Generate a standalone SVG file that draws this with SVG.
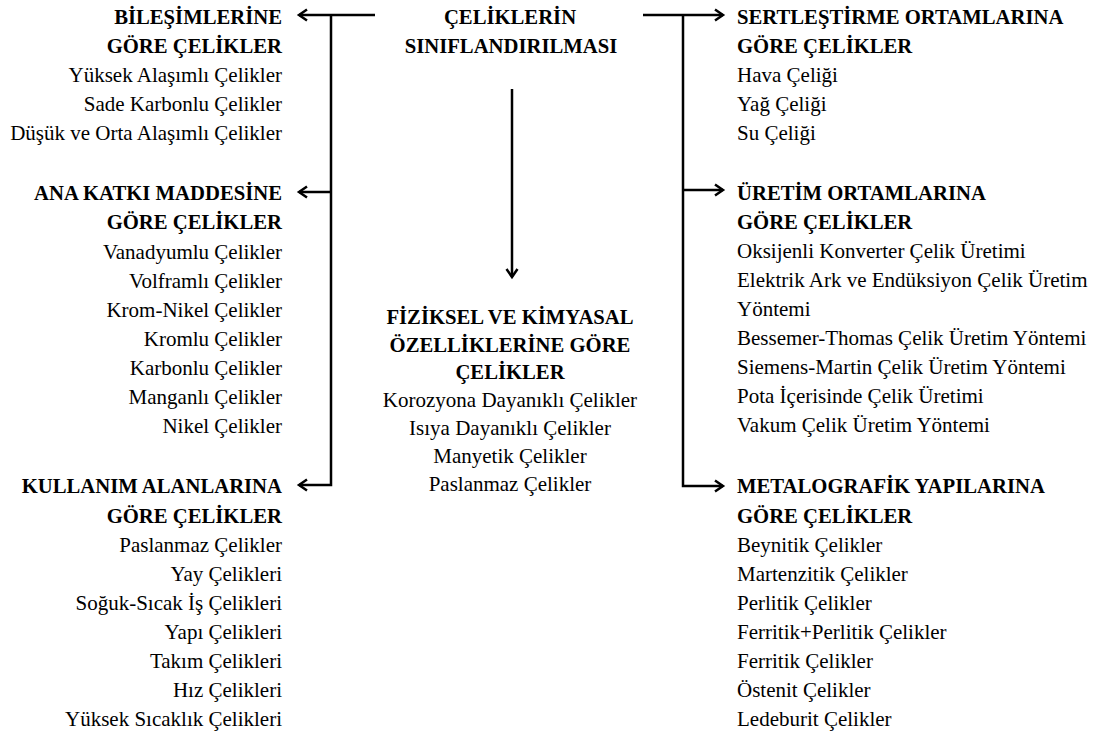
<svg xmlns="http://www.w3.org/2000/svg" width="1107" height="740" viewBox="0 0 1107 740">
<style>
text{font-family:"Liberation Serif","Times New Roman",serif;fill:#000;font-size:21px}
.h{font-weight:bold;font-size:20.7px}
.l{text-anchor:end}
.c{text-anchor:middle}
.ln{fill:none;stroke:#000;stroke-width:2.5}
</style>
<defs>
<marker id="ah" markerUnits="userSpaceOnUse" markerWidth="14" markerHeight="14" refX="10" refY="7" orient="auto">
<path d="M2,1.5 L10,7 L2,12.5" fill="none" stroke="#000" stroke-width="2.5"/>
</marker>
</defs>
<rect width="1107" height="740" fill="#fff"/>
<g id="connectors">
<path class="ln" d="M375,15 H299" marker-end="url(#ah)"/>
<path class="ln" d="M331,15 V485 H299" marker-end="url(#ah)"/>
<path class="ln" d="M331,192 H299" marker-end="url(#ah)"/>
<path class="ln" d="M643,15 H723" marker-end="url(#ah)"/>
<path class="ln" d="M683,15 V486 H723" marker-end="url(#ah)"/>
<path class="ln" d="M683,190 H723" marker-end="url(#ah)"/>
<path class="ln" d="M512,89 V277" marker-end="url(#ah)"/>
</g>
<g id="root">
<text class="h c" x="510" y="24">ÇELİKLERİN</text>
<text class="h c" x="511" y="53">SINIFLANDIRILMASI</text>
</g>
<g id="bilesim">
<text class="h l" x="282" y="24">BİLEŞİMLERİNE</text>
<text class="h l" x="282" y="53">GÖRE ÇELİKLER</text>
<text class="l" x="282" y="82">Yüksek Alaşımlı Çelikler</text>
<text class="l" x="282" y="111">Sade Karbonlu Çelikler</text>
<text class="l" x="282" y="140">Düşük ve Orta Alaşımlı Çelikler</text>
</g>
<g id="anakatki">
<text class="h l" x="282" y="200">ANA KATKI MADDESİNE</text>
<text class="h l" x="282" y="229">GÖRE ÇELİKLER</text>
<text class="l" x="282" y="259">Vanadyumlu Çelikler</text>
<text class="l" x="282" y="288">Volframlı Çelikler</text>
<text class="l" x="282" y="317">Krom-Nikel Çelikler</text>
<text class="l" x="282" y="346">Kromlu Çelikler</text>
<text class="l" x="282" y="375">Karbonlu Çelikler</text>
<text class="l" x="282" y="404">Manganlı Çelikler</text>
<text class="l" x="282" y="433">Nikel Çelikler</text>
</g>
<g id="kullanim">
<text class="h l" x="282" y="493">KULLANIM ALANLARINA</text>
<text class="h l" x="282" y="523">GÖRE ÇELİKLER</text>
<text class="l" x="282" y="552">Paslanmaz Çelikler</text>
<text class="l" x="282" y="581">Yay Çelikleri</text>
<text class="l" x="282" y="610">Soğuk-Sıcak İş Çelikleri</text>
<text class="l" x="282" y="639">Yapı Çelikleri</text>
<text class="l" x="282" y="668">Takım Çelikleri</text>
<text class="l" x="282" y="697">Hız Çelikleri</text>
<text class="l" x="282" y="726">Yüksek Sıcaklık Çelikleri</text>
</g>
<g id="fiziksel">
<text class="h c" x="510" y="324">FİZİKSEL VE KİMYASAL</text>
<text class="h c" x="510" y="352">ÖZELLİKLERİNE GÖRE</text>
<text class="h c" x="510" y="379">ÇELİKLER</text>
<text class="c" x="510" y="407">Korozyona Dayanıklı Çelikler</text>
<text class="c" x="510" y="435">Isıya Dayanıklı Çelikler</text>
<text class="c" x="510" y="463">Manyetik Çelikler</text>
<text class="c" x="510" y="491">Paslanmaz Çelikler</text>
</g>
<g id="sertlestirme">
<text class="h" x="737" y="24">SERTLEŞTİRME ORTAMLARINA</text>
<text class="h" x="737" y="53">GÖRE ÇELİKLER</text>
<text x="737" y="82">Hava Çeliği</text>
<text x="737" y="111">Yağ Çeliği</text>
<text x="737" y="140">Su Çeliği</text>
</g>
<g id="uretim">
<text class="h" x="737" y="200">ÜRETİM ORTAMLARINA</text>
<text class="h" x="737" y="229">GÖRE ÇELİKLER</text>
<text x="737" y="258">Oksijenli Konverter Çelik Üretimi</text>
<text x="737" y="287">Elektrik Ark ve Endüksiyon Çelik Üretim</text>
<text x="737" y="316">Yöntemi</text>
<text x="737" y="345">Bessemer-Thomas Çelik Üretim Yöntemi</text>
<text x="737" y="374">Siemens-Martin Çelik Üretim Yöntemi</text>
<text x="737" y="403">Pota İçerisinde Çelik Üretimi</text>
<text x="737" y="432">Vakum Çelik Üretim Yöntemi</text>
</g>
<g id="metalografik">
<text class="h" x="737" y="493">METALOGRAFİK YAPILARINA</text>
<text class="h" x="737" y="523">GÖRE ÇELİKLER</text>
<text x="737" y="552">Beynitik Çelikler</text>
<text x="737" y="581">Martenzitik Çelikler</text>
<text x="737" y="610">Perlitik Çelikler</text>
<text x="737" y="639">Ferritik+Perlitik Çelikler</text>
<text x="737" y="668">Ferritik Çelikler</text>
<text x="737" y="697">Östenit Çelikler</text>
<text x="737" y="726">Ledeburit Çelikler</text>
</g>
</svg>
